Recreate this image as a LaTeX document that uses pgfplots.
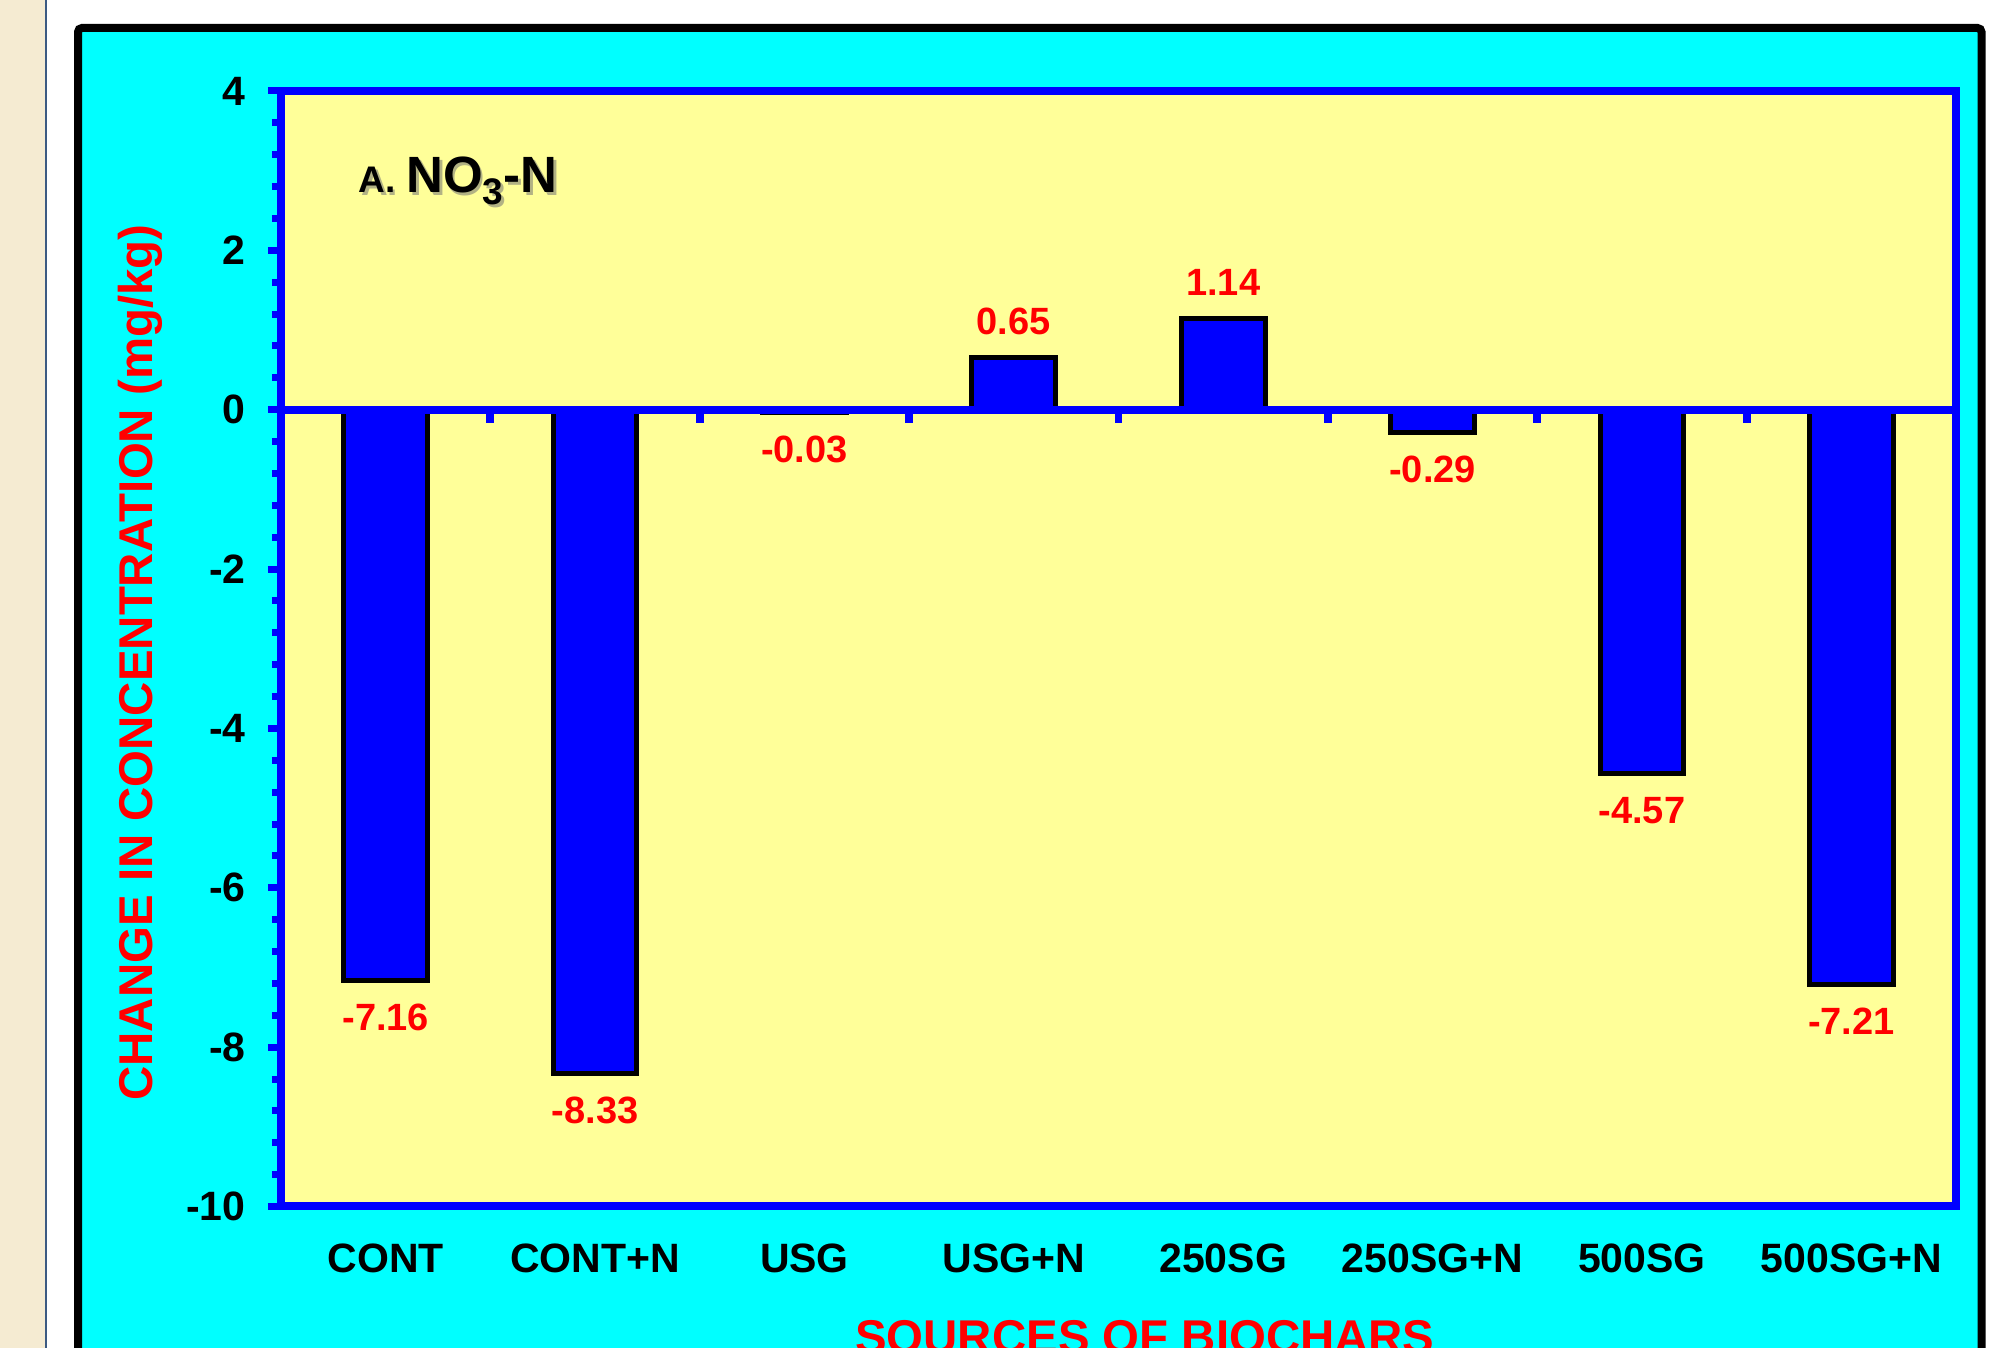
\documentclass[border=0pt]{standalone}
\usepackage{pgfplots}
\pgfplotsset{compat=1.18}
\usepackage{pgfplotstable}
\usepackage{fontspec}
\setmainfont{Liberation Sans}

\definecolor{panelcyan}{RGB}{0,255,255}
\definecolor{plotyellow}{RGB}{255,255,153}
\definecolor{barblue}{RGB}{0,0,255}
\definecolor{labelred}{RGB}{255,0,0}
\definecolor{pagebeige}{RGB}{245,235,210}
\definecolor{rulegray}{RGB}{60,90,130}

% Change in NO3-N concentration (mg/kg) per biochar treatment
\pgfplotstableread{
x  val
0  -7.16
1  -8.33
2  -0.03
3   0.65
4   1.14
5  -0.29
6  -4.57
7  -7.21
}\nitrate

\newcommand\paneltitle{%
  {\fontsize{18.5}{20}\selectfont\bfseries A.}\hspace{5.5pt}%
  {\fontsize{25.5}{28}\selectfont\bfseries NO\raisebox{-6pt}{\fontsize{18.5}{20}\selectfont 3}-N}}

\begin{document}
\begin{tikzpicture}
\useasboundingbox (0,0) rectangle (999pt,674pt);
\clip (0,0) rectangle (999pt,674pt);
\fill[white] (0,0) rectangle (999pt,674pt);
\fill[pagebeige] (0,0) rectangle (22.5pt,674pt);
\draw[rulegray, line width=1pt] (22.9pt,0) -- (22.9pt,674pt);
\draw[black, line width=4pt, fill=panelcyan, rounded corners=2pt]
  (39pt,-20pt) rectangle (990.75pt,660pt);

\begin{axis}[
  at={(140.5pt,70.75pt)}, anchor=south west,
  scale only axis, width=837.5pt, height=557.75pt,
  xmin=-0.5, xmax=7.5, ymin=-10, ymax=4,
  axis background/.style={fill=plotyellow},
  axis line style={barblue, line width=4pt},
  xtick={0,...,7},
  xticklabels={CONT, CONT+N, USG, USG+N, 250SG, 250SG+N, 500SG, 500SG+N},
  x tick style={draw=none},
  ytick={-10,-8,...,4},
  minor y tick num=4,
  tick align=outside,
  ytick pos=left,
  y tick style={barblue, line width=3.5pt},
  major tick length=6.5pt, minor tick length=4.5pt,
  tick label style={font=\fontsize{20.5}{22}\selectfont\bfseries, black},
  yticklabel style={inner sep=0pt, anchor=east, xshift=-11pt},
  xticklabel style={inner sep=0pt, anchor=north, yshift=-12pt},
  /pgf/number format/assume math mode=true,
  ylabel={CHANGE IN CONCENTRATION (mg/kg)},
  xlabel={SOURCES OF BIOCHARS},
  every axis y label/.style={at={(axis description cs:-0.0842,0.4877)}, rotate=90, anchor=center,
    font=\fontsize{23.7}{26}\selectfont\bfseries, text=labelred},
  every axis x label/.style={at={(axis description cs:0.5158,-0.1017)}, anchor=north, inner sep=0pt,
    font=\fontsize{23.7}{26}\selectfont\bfseries, text=labelred},
  ybar, bar width=0.4,
  nodes near coords={\pgfmathprintnumber[fixed,fixed zerofill,precision=2]{\pgfplotspointmeta}},
  nodes near coords align={vertical},
  every node near coord/.append style={font=\fontsize{19}{21}\selectfont\bfseries, text=labelred, inner sep=10.5pt},
]
\addplot[fill=barblue, draw=black, line width=2.5pt] table[x=x, y=val] {\nitrate};
\end{axis}

% zero line with category separators
\begin{axis}[
  at={(140.5pt,70.75pt)}, anchor=south west,
  scale only axis, width=837.5pt, height=557.75pt,
  xmin=-0.5, xmax=7.5, ymin=-10, ymax=4,
  axis x line=middle, axis y line=none,
  axis line style={-},
  x axis line style={barblue, line width=4pt, -},
  xtick={0.5,1.5,...,6.5}, xticklabels={},
  tick align=outside,
  x tick style={barblue, line width=3.9pt},
  major tick length=6.5pt,
]
\end{axis}

\node[anchor=base west, inner sep=0pt, text=black!55, opacity=0.55] at (180.3pt,576.3pt) {\paneltitle};
\node[anchor=base west, inner sep=0pt] at (179pt,577.5pt) {\paneltitle};
\end{tikzpicture}
\end{document}
